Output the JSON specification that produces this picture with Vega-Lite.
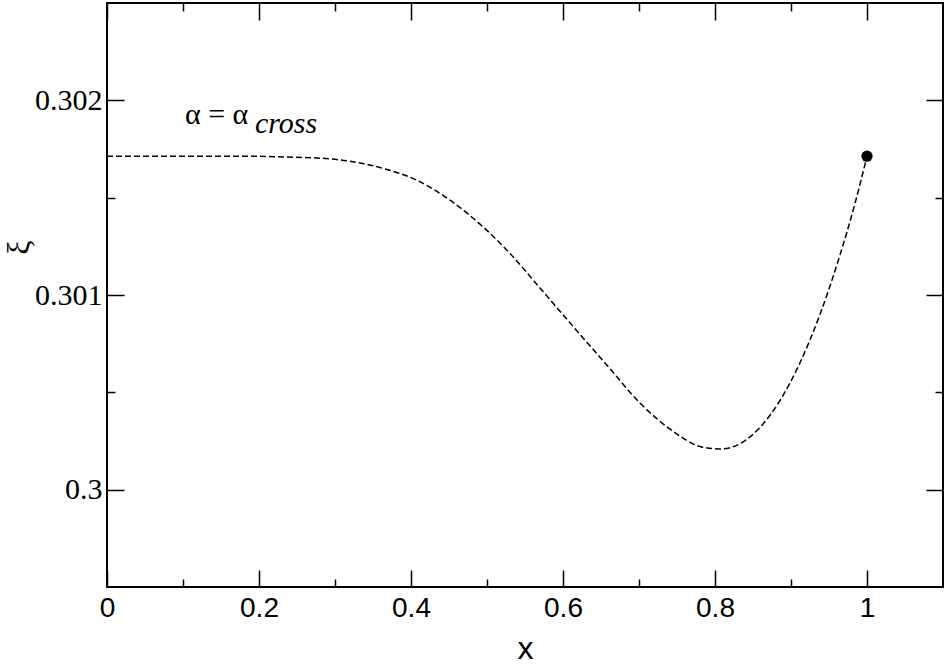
{
  "$schema": "https://vega.github.io/schema/vega-lite/v6.json",
  "width": 836,
  "height": 584,
  "autosize": "none",
  "padding": {"left": 107, "top": 3, "right": 1, "bottom": 78},
  "background": "white",
  "config": {
    "view": {"stroke": "black", "strokeWidth": 2},
    "axis": {"grid": false, "domain": false, "tickColor": "black", "tickWidth": 1.5, "labelColor": "black", "titleColor": "black"}
  },
  "datasets": {
    "curve": [
      {"x": 0, "xi": 0.301713},
      {"x": 0.1, "xi": 0.301713},
      {"x": 0.1882, "xi": 0.301713},
      {"x": 0.232, "xi": 0.301709},
      {"x": 0.2759, "xi": 0.301704},
      {"x": 0.3197, "xi": 0.301687},
      {"x": 0.3636, "xi": 0.30165},
      {"x": 0.4075, "xi": 0.30159},
      {"x": 0.4513, "xi": 0.301487},
      {"x": 0.4951, "xi": 0.301349},
      {"x": 0.5303, "xi": 0.301213},
      {"x": 0.5697, "xi": 0.301036},
      {"x": 0.6136, "xi": 0.300837},
      {"x": 0.6575, "xi": 0.300641},
      {"x": 0.7013, "xi": 0.300445},
      {"x": 0.7451, "xi": 0.300299},
      {"x": 0.7803, "xi": 0.300222},
      {"x": 0.8066, "xi": 0.300209},
      {"x": 0.8329, "xi": 0.300236},
      {"x": 0.8592, "xi": 0.30032},
      {"x": 0.8855, "xi": 0.300458},
      {"x": 0.9118, "xi": 0.300652},
      {"x": 0.9382, "xi": 0.300901},
      {"x": 0.9645, "xi": 0.301206},
      {"x": 0.9842, "xi": 0.30147},
      {"x": 1.0, "xi": 0.301713}
    ],
    "endpoint": [{"x": 1.0, "xi": 0.301713}],
    "label_main": [{"x": 0.1026, "xi": 0.301877, "text": "α = α"}],
    "label_sub": [{"x": 0.1947, "xi": 0.301831, "text": "cross"}]
  },
  "layer": [
    {
      "data": {"name": "curve"},
      "mark": {"type": "line", "color": "black", "strokeWidth": 1.5, "strokeDash": [6, 3], "interpolate": "monotone"},
      "encoding": {
        "x": {
          "field": "x", "type": "quantitative",
          "scale": {"domain": [0, 1.1], "nice": false, "zero": false},
          "axis": {
            "orient": "bottom",
            "values": [0, 0.1, 0.2, 0.3, 0.4, 0.5, 0.6, 0.7, 0.8, 0.9, 1.0],
            "tickSize": {"condition": {"test": "round(datum.value*10)%2==1", "value": -8}, "value": -17},
            "labelExpr": "round(datum.value*10)%2==0 ? toString(round(datum.value*10)/10) : ''",
            "labelFont": "Liberation Sans", "labelFontSize": 28, "labelPadding": 24,
            "labelFlush": false, "labelOverlap": false,
            "title": "x", "titleFont": "Liberation Sans", "titleFontSize": 32, "titleFontWeight": "normal",
            "titleX": 418, "titleY": 71, "titleBaseline": "alphabetic"
          }
        },
        "y": {
          "field": "xi", "type": "quantitative",
          "scale": {"domain": [0.2995, 0.3025], "nice": false, "zero": false},
          "axis": {
            "orient": "left",
            "values": [0.3, 0.3005, 0.301, 0.3015, 0.302],
            "tickSize": {"condition": {"test": "round(datum.value*2000)%2==1", "value": -8}, "value": -17},
            "labelExpr": "round(datum.value*2000)%2==0 ? toString(round(datum.value*1000)/1000) : ''",
            "labelFont": "Liberation Serif", "labelFontSize": 30, "labelPadding": 22,
            "labelFlush": false, "labelOverlap": false,
            "title": "ξ", "titleFont": "Liberation Serif", "titleFontSize": 32, "titleFontWeight": "normal",
            "titleX": -89, "titleY": 244, "titleAlign": "center", "titleBaseline": "middle", "titleAngle": -90
          }
        }
      }
    },
    {
      "data": {"name": "endpoint"},
      "mark": {"type": "circle", "color": "black", "opacity": 1, "size": 125},
      "encoding": {
        "x": {
          "field": "x", "type": "quantitative",
          "axis": {
            "orient": "top",
            "values": [0, 0.1, 0.2, 0.3, 0.4, 0.5, 0.6, 0.7, 0.8, 0.9, 1.0],
            "tickSize": {"condition": {"test": "round(datum.value*10)%2==1", "value": -8}, "value": -17},
            "labels": false, "title": null
          }
        },
        "y": {
          "field": "xi", "type": "quantitative",
          "axis": {
            "orient": "right",
            "values": [0.3, 0.3005, 0.301, 0.3015, 0.302],
            "tickSize": {"condition": {"test": "round(datum.value*2000)%2==1", "value": -8}, "value": -17},
            "labels": false, "title": null
          }
        }
      }
    },
    {
      "data": {"name": "label_main"},
      "mark": {"type": "text", "font": "Liberation Serif", "fontSize": 30, "align": "left", "baseline": "alphabetic", "color": "black"},
      "encoding": {
        "x": {"field": "x", "type": "quantitative", "axis": null},
        "y": {"field": "xi", "type": "quantitative", "axis": null},
        "text": {"field": "text"}
      }
    },
    {
      "data": {"name": "label_sub"},
      "mark": {"type": "text", "font": "Liberation Serif", "fontSize": 30, "fontStyle": "italic", "align": "left", "baseline": "alphabetic", "color": "black"},
      "encoding": {
        "x": {"field": "x", "type": "quantitative", "axis": null},
        "y": {"field": "xi", "type": "quantitative", "axis": null},
        "text": {"field": "text"}
      }
    }
  ],
  "resolve": {"axis": {"x": "independent", "y": "independent"}}
}
